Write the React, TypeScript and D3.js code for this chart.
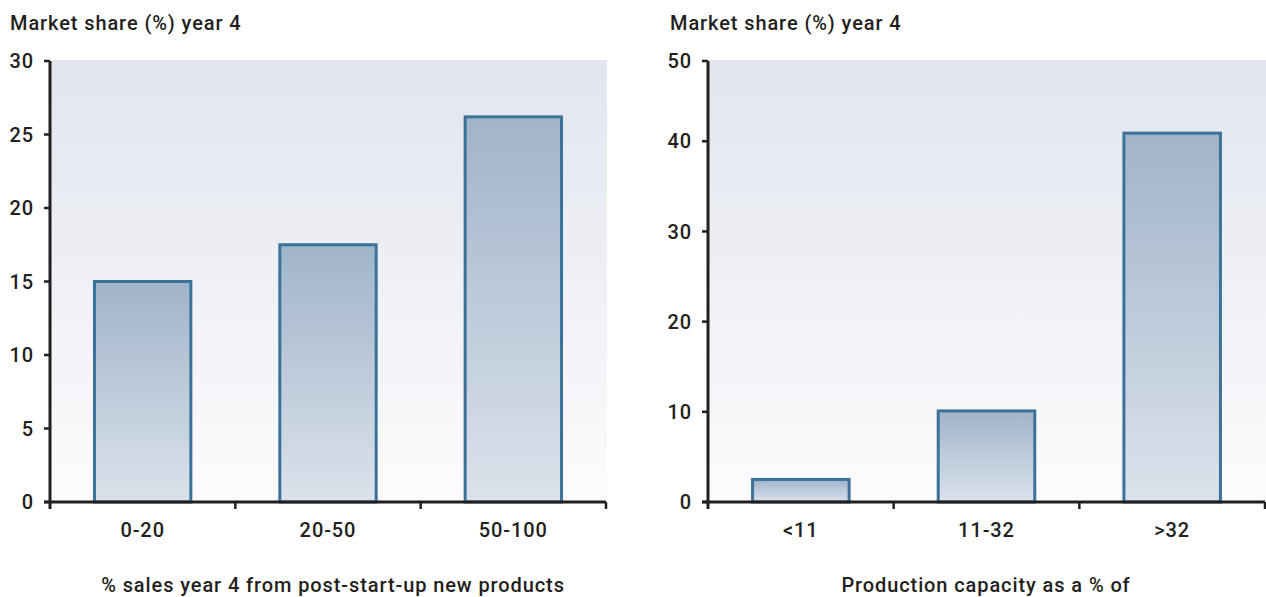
import React from "react";
import * as d3 from "d3";

const leftCategories = ["0-20", "20-50", "50-100"];
const leftValues = [15, 17.5, 26.2];
const leftTicks = [0, 5, 10, 15, 20, 25, 30];

const rightCategories = ["<11", "11-32", ">32"];
const rightValues = [2.5, 10.1, 40.9];
const rightTicks = [0, 10, 20, 30, 40, 50];

const yTitle = "Market share (%) year 4";
const leftXTitle = "% sales year 4 from post-start-up new products";
const rightXTitle = "Production capacity as a % of";

const FONT = "Roboto, 'Noto Sans', sans-serif";
const TEXT = "#231f20";
const FS = 20;
const LS = 0.9;

type PanelProps = {
  x0: number;
  x1: number;
  titleX: number;
  categories: string[];
  values: number[];
  ticks: number[];
  max: number;
  xTitle: string;
  xTitleX: number;
};

const TOP = 61;
const BOTTOM = 502;

function Panel(p: PanelProps) {
  const y = d3.scaleLinear().domain([0, p.max]).range([BOTTOM, TOP]);
  const x = d3.scaleBand().domain(p.categories).range([p.x0, p.x1]).paddingInner(0.48).paddingOuter(0.24);
  const band = d3.scaleBand().domain(p.categories).range([p.x0, p.x1]);
  const ty = (t: number) => y(Math.min(t, p.max));
  return (
    <g>
      <text x={p.titleX} y={30} fontFamily={FONT} fontWeight={500} fontSize={FS} letterSpacing={LS} fill={TEXT}>
        {yTitle}
      </text>
      <rect x={p.x0 + 1} y={TOP - 1} width={p.x1 - p.x0} height={BOTTOM - TOP + 1} fill="url(#bgGrad)" />
      {p.categories.map((c, i) => (
        <rect
          key={c}
          x={x(c)!}
          y={y(p.values[i])}
          width={x.bandwidth()}
          height={BOTTOM - y(p.values[i])}
          fill="url(#barGrad)"
          stroke="#3c7299"
          strokeWidth={3}
        />
      ))}
      <line x1={p.x0} x2={p.x0} y1={TOP} y2={BOTTOM + 1} stroke={TEXT} strokeWidth={3} />
      {p.ticks.map((t) => (
        <g key={t}>
          <line x1={p.x0 - 6} x2={p.x0} y1={ty(t)} y2={ty(t)} stroke={TEXT} strokeWidth={2.5} />
          <text
            x={p.x0 - 16}
            y={ty(t)}
            dy="0.36em"
            textAnchor="end"
            fontFamily={FONT}
            fontWeight={500}
            fontSize={FS}
            letterSpacing={LS}
            fill={TEXT}
          >
            {t}
          </text>
        </g>
      ))}
      <line x1={p.x0 - 6} x2={p.x1} y1={BOTTOM} y2={BOTTOM} stroke={TEXT} strokeWidth={3} />
      {p.categories.map((c) => (
        <line
          key={c}
          x1={band(c)! + band.bandwidth()}
          x2={band(c)! + band.bandwidth()}
          y1={BOTTOM}
          y2={BOTTOM + 7}
          stroke={TEXT}
          strokeWidth={2.5}
        />
      ))}
      <line x1={p.x0} x2={p.x0} y1={BOTTOM} y2={BOTTOM + 7} stroke={TEXT} strokeWidth={3} />
      {p.categories.map((c) => (
        <text
          key={c}
          x={band(c)! + band.bandwidth() / 2}
          y={530}
          dy="0.36em"
          textAnchor="middle"
          fontFamily={FONT}
          fontWeight={500}
          fontSize={FS}
          letterSpacing={LS}
          fill={TEXT}
        >
          {c}
        </text>
      ))}
      <text
        x={p.xTitleX}
        y={585}
        dy="0.36em"
        textAnchor="middle"
        fontFamily={FONT}
        fontWeight={500}
        fontSize={FS}
        letterSpacing={LS}
        fill={TEXT}
      >
        {p.xTitle}
      </text>
    </g>
  );
}

export default function App() {
  return (
    <svg width={1266} height={597} style={{ position: "absolute", left: 0, top: 0, background: "#ffffff" }}>
      <defs>
        <linearGradient id="bgGrad" x1="0" y1="0" x2="0" y2="1">
          <stop offset="0" stopColor="#e1e5ee" />
          <stop offset="1" stopColor="#fdfbfd" />
        </linearGradient>
        <linearGradient id="barGrad" x1="0" y1="0" x2="0" y2="1">
          <stop offset="0" stopColor="#a0b4ca" />
          <stop offset="1" stopColor="#dce2eb" />
        </linearGradient>
      </defs>
      <Panel
        x0={50}
        x1={606}
        titleX={10}
        categories={leftCategories}
        values={leftValues}
        ticks={leftTicks}
        max={30}
        xTitle={leftXTitle}
        xTitleX={333}
      />
      <Panel
        x0={708}
        x1={1265}
        titleX={670}
        categories={rightCategories}
        values={rightValues}
        ticks={rightTicks}
        max={48.9}
        xTitle={rightXTitle}
        xTitleX={986}
      />
    </svg>
  );
}
